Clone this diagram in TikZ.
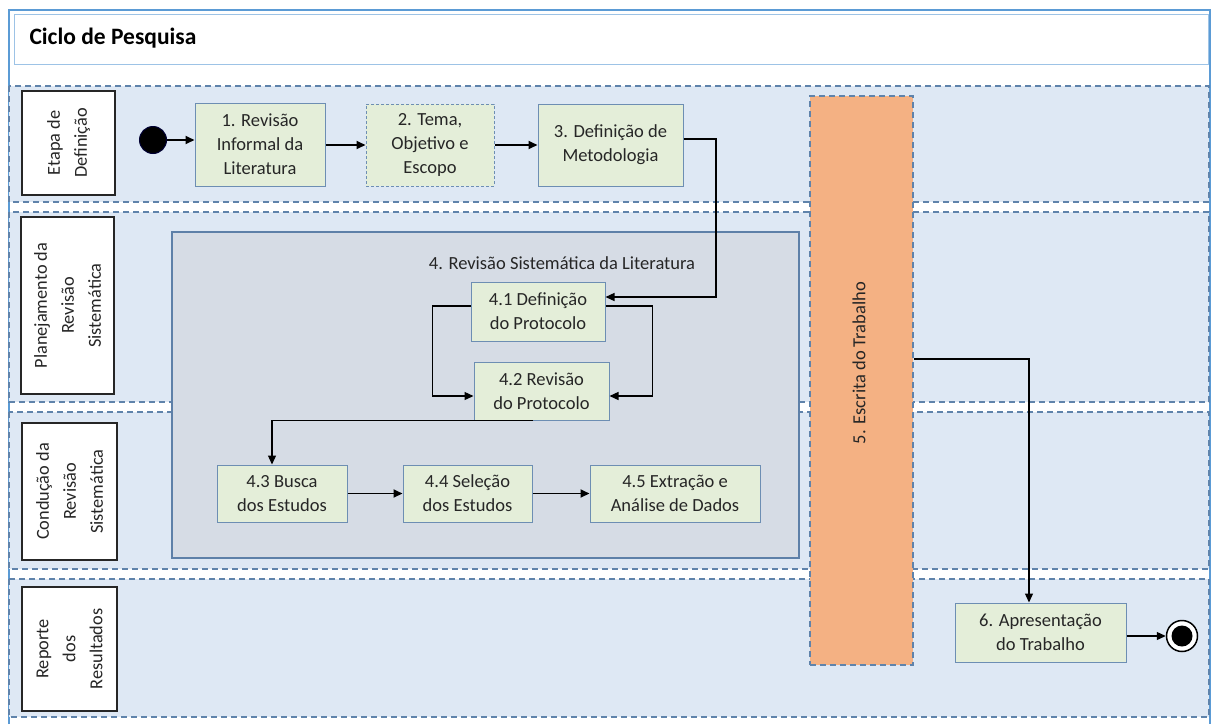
\documentclass[tikz,border=0pt]{standalone}
\usepackage{fontspec}
\setmainfont{Carlito}
\usetikzlibrary{arrows.meta}

\definecolor{laneFill}{HTML}{DEE8F4}
\definecolor{laneLine}{HTML}{5F83AB}
\definecolor{taskFill}{HTML}{E4EED9}
\definecolor{taskLine}{HTML}{6D8EB3}
\definecolor{groupFill}{HTML}{D6DCE5}
\definecolor{groupLine}{HTML}{5E80A8}
\definecolor{writeFill}{HTML}{F4B183}
\definecolor{frameLine}{HTML}{5B9BD5}
\definecolor{titleLine}{HTML}{9DC3E6}
\definecolor{ink}{HTML}{262626}

\tikzset{
  lane/.style={fill=laneFill, draw=laneLine, dash pattern=on 6pt off 4pt, line width=1.2pt},
  lanelabel/.style={draw=ink, fill=white, line width=1.2pt, rotate=90, align=center,
    inner sep=0pt, text=ink, font=\fontsize{18.3}{27}\selectfont},
  task/.style={draw=taskLine, fill=taskFill, line width=1pt, align=center, inner sep=0pt,
    text=ink, font=\fontsize{18.5}{24}\selectfont},
  flow/.style={-{Triangle[length=9pt,width=8pt]}, line width=1.8pt, black},
  thinflow/.style={-{Triangle[length=9pt,width=8pt]}, line width=1.3pt, black},
}

\begin{document}
\begin{tikzpicture}[x=1pt,y=-1pt]
\useasboundingbox (0,0) rectangle (1211,724);
\fill[white] (0,0) rectangle (1211,724);

% outer frame and title bar
\draw[frameLine, line width=1.2pt] (9,724) -- (9,10) -- (1210,10) -- (1210,724);
\draw[titleLine, line width=1pt, fill=white] (14,14) rectangle (1208,64);
\node[anchor=west, font=\fontsize{23.5}{26}\selectfont\bfseries, text=black] (title) at (26,38) {Ciclo de Pesquisa};

% swimlanes
\draw[lane] (9,86) rectangle (1209,202);
\draw[lane] (9,212) rectangle (1209,402);
\draw[lane] (9,412) rectangle (1209,569);
\draw[lane] (9,579) rectangle (1209,717);

% lane labels
\node[lanelabel, minimum width=104, minimum height=93] (lab1) at (68.5,143) {Etapa de\\Definição};
\node[lanelabel, minimum width=177, minimum height=93] (lab2) at (67.5,305.5) {Planejamento da\\Revisão\\Sistemática};
\node[lanelabel, minimum width=137, minimum height=95] (lab3) at (69.5,491.5) {Condução da\\Revisão\\Sistemática};
\node[lanelabel, minimum width=124, minimum height=95] (lab4) at (69.5,649) {Reporte\\dos\\Resultados};

% group of the systematic review
\node[draw=groupLine, fill=groupFill, line width=1.2pt, minimum width=627, minimum height=326, inner sep=0pt] (group) at (485.5,395) {};
\node[text=ink, font=\fontsize{18.5}{24}\selectfont] (grouptitle) at (562,263) {4. Revisão Sistemática da Literatura};

% writing activity spanning all lanes
\node[fill=writeFill, draw=laneLine, dash pattern=on 6pt off 4pt, line width=1.2pt,
      minimum width=103, minimum height=569, inner sep=0pt] (write) at (861.5,380.5) {};
\node[rotate=90, text=ink, font=\fontsize{18.5}{24}\selectfont] (writelabel) at (859,363) {5. Escrita do Trabalho};

% start and end
\node[circle, fill=black, draw=black!80!blue, line width=1pt, minimum size=27, inner sep=0pt] (start) at (153,140) {};
\node[circle, fill=white, draw=black, line width=1.5pt, minimum size=31, inner sep=0pt] (end) at (1182,636) {};
\node[circle, fill=black, minimum size=21, inner sep=0pt] (endcore) at (end) {};

% tasks
\node[task, minimum width=130, minimum height=83] (b1) at (260,144.5) {1. Revisão\\Informal da\\Literatura};
\node[task, dash pattern=on 3pt off 2pt, minimum width=128, minimum height=82] (b2) at (430,145) {2. Tema,\\Objetivo e\\Escopo};
\node[task, minimum width=145, minimum height=82] (b3) at (610.5,145) {3. Definição de\\Metodologia};
\node[task, minimum width=134, minimum height=59] (p1) at (538,311.5) {4.1 Definição\\do Protocolo};
\node[task, minimum width=135, minimum height=58] (p2) at (541.5,391) {4.2 Revisão\\do Protocolo};
\node[task, minimum width=130, minimum height=57] (p3) at (282,493.5) {4.3 Busca\\dos Estudos};
\node[task, minimum width=129, minimum height=57] (p4) at (467.5,493.5) {4.4 Seleção\\dos Estudos};
\node[task, minimum width=170, minimum height=57] (p5) at (675,493.5) {4.5 Extração e\\Análise de Dados};
\node[task, minimum width=171, minimum height=59] (b6) at (1040.5,632.5) {6. Apresentação\\do Trabalho};

% connectors
\coordinate (bend) at (716,139);
\draw[flow] (start.east) -- (start.east -| b1.west);
\draw[flow] (b1.east |- b2) -- (b2.west);
\draw[flow] (b2.east) -- (b3.west);
\draw[thinflow] ([yshift=6pt]b3.east) -- (bend) |- ([yshift=14.5pt]p1.east);
\draw[thinflow] ([yshift=5.5pt]p1.west) -- ++(-38,0) |- ([yshift=-5pt]p2.west);
\draw[thinflow] ([yshift=5.5pt]p1.east) -- ++(47,0) |- ([yshift=-5pt]p2.east);
\draw[thinflow] ([xshift=-8.5pt]p2.south) -| ([xshift=-10pt]p3.north);
\draw[flow] (p3.east) -- (p4.west);
\draw[flow] (p4.east) -- (p5.west);
\draw[thinflow] ([yshift=21.5pt]write.east) -| ([xshift=-11.5pt]b6.north);
\draw[thinflow] (b6.east |- end) -- (end.west);
\end{tikzpicture}
\end{document}
